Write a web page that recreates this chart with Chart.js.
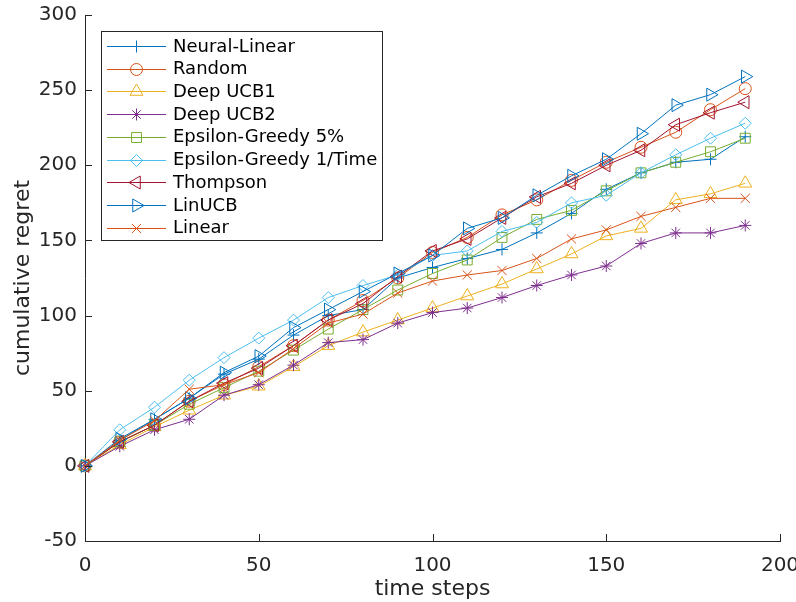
<!DOCTYPE html>
<html>
<head>
<meta charset="utf-8">
<title>cumulative regret</title>
<script src="https://cdn.jsdelivr.net/npm/chart.js@4.4.0/dist/chart.umd.min.js"></script>
<style>
  html, body { margin: 0; padding: 0; background: #fff; }
  #wrap { width: 796px; height: 602px; }
</style>
</head>
<body>
<div id="wrap"><canvas id="regret-chart" width="796" height="602"></canvas></div>
<script>
// values, one point every 10 time steps
const timeSteps = [0, 10, 20, 30, 40, 50, 60, 70, 80, 90, 100, 110, 120, 130, 140, 150, 160, 170, 180, 190];

const neuralLinear  = [0, 17, 31, 45, 61, 71, 87, 100, 104, 125, 132, 138, 144, 155, 168, 184, 195, 202, 204, 219];
const random        = [0, 16, 27, 43, 54, 66, 80, 97, 110, 125, 142, 152, 167, 177, 190, 202, 212, 222, 237, 251];
const deepUcb1      = [0, 14, 26, 37, 47, 53, 66, 80, 89, 97, 105, 113, 121, 131, 141, 153, 158, 177, 181, 188];
const deepUcb2      = [0, 13, 24, 31, 47, 54, 67, 82, 84, 95, 102, 105, 112, 120, 127, 133, 148, 155, 155, 160];
const epsGreedy5    = [0, 16, 27, 41, 52, 63, 77, 91, 104, 117, 128, 137, 152, 164, 170, 183, 195, 202, 209, 218];
const epsGreedyTime = [0, 24, 39, 57, 72, 85, 97, 112, 120, 127, 140, 143, 156, 162, 175, 180, 195, 207, 218, 228];
const thompson      = [0, 16, 27, 43, 55, 65, 80, 97, 108, 126, 143, 151, 165, 179, 188, 200, 210, 227, 235, 242];
const linUcb        = [0, 18, 31, 45, 62, 73, 92, 104, 116, 128, 140, 158, 165, 180, 193, 204, 221, 240, 247, 259];
const linear        = [0, 17, 30, 51, 54, 62, 78, 95, 101, 115, 123, 127, 130, 138, 151, 157, 166, 172, 178, 178];

const seriesNames = ['Neural-Linear', 'Random', 'Deep UCB1', 'Deep UCB2', 'Epsilon-Greedy 5%',
  'Epsilon-Greedy 1/Time', 'Thompson', 'LinUCB', 'Linear'];
const seriesValues = [neuralLinear, random, deepUcb1, deepUcb2, epsGreedy5, epsGreedyTime, thompson, linUcb, linear];

const xTickValues = [0, 50, 100, 150, 200];
const yTickValues = [-50, 0, 50, 100, 150, 200, 250, 300];

// matlab default colour order + marker per line
const seriesStyle = [
  { color: '#0072BD', marker: 'cross', rot: 0, r: 6 },
  { color: '#D95319', marker: 'circle', rot: 0, r: 6 },
  { color: '#EDB120', marker: 'triangle', rot: 0, r: 7.5 },
  { color: '#7E2F8E', marker: 'star', rot: 0, r: 6 },
  { color: '#77AC30', marker: 'rect', rot: 0, r: 7 },
  { color: '#4DBEEE', marker: 'rectRot', rot: 0, r: 6 },
  { color: '#A2142F', marker: 'triangle', rot: -90, r: 7.5 },
  { color: '#0072BD', marker: 'triangle', rot: 90, r: 7.5 },
  { color: '#D95319', marker: 'crossRot', rot: 0, r: 6.5 }
];

const axisColor = '#262626';
const fontFamily = "'DejaVu Sans', 'Liberation Sans', sans-serif";

const datasets = seriesNames.map((name, i) => {
  const st = seriesStyle[i];
  return {
    label: name,
    data: timeSteps.map((t, j) => ({ x: t, y: seriesValues[i][j] })),
    borderColor: st.color,
    backgroundColor: 'rgba(0,0,0,0)',
    borderWidth: 1,
    pointStyle: st.marker,
    pointRotation: st.rot,
    pointRadius: st.r,
    pointBorderWidth: 1,
    pointBackgroundColor: 'rgba(0,0,0,0)',
    tension: 0,
    clip: false,
    order: -i
  };
});

function drawMarker(ctx, style, x, y) {
  if (Chart.helpers && Chart.helpers.drawPoint) {
    Chart.helpers.drawPoint(ctx, { pointStyle: style.marker, rotation: style.rot, radius: style.r, borderWidth: 1 }, x, y);
  } else {
    ctx.beginPath();
    ctx.arc(x, y, style.r, 0, Math.PI * 2);
    ctx.stroke();
  }
}

// inward tick marks and the boxed legend, the way matlab draws them
const matlabDecor = {
  id: 'matlabDecor',
  afterDraw(chart) {
    const ctx = chart.ctx;
    const xs = chart.scales.x;
    const ys = chart.scales.y;
    const area = chart.chartArea;
    const tickLen = 7;

    ctx.save();
    ctx.strokeStyle = axisColor;
    ctx.lineWidth = 1;
    ctx.beginPath();
    xTickValues.forEach(v => {
      const px = Math.round(xs.getPixelForValue(v)) + 0.5;
      ctx.moveTo(px, area.bottom);
      ctx.lineTo(px, area.bottom - tickLen);
    });
    yTickValues.forEach(v => {
      const py = Math.round(ys.getPixelForValue(v)) + 0.5;
      ctx.moveTo(area.left, py);
      ctx.lineTo(area.left + tickLen, py);
    });
    ctx.stroke();

    // legend box
    const box = { x: 101.5, y: 31.5, w: 281, h: 209 };
    ctx.fillStyle = '#fff';
    ctx.fillRect(box.x, box.y, box.w, box.h);
    ctx.strokeStyle = axisColor;
    ctx.strokeRect(box.x, box.y, box.w, box.h);

    const rowH = 22.7;
    ctx.font = '18px ' + fontFamily;
    ctx.textBaseline = 'middle';
    ctx.textAlign = 'left';
    chart.data.datasets.forEach((ds, i) => {
      const st = seriesStyle[i];
      const y = 46 + i * rowH;
      ctx.strokeStyle = st.color;
      ctx.lineWidth = 1;
      ctx.beginPath();
      ctx.moveTo(107, Math.round(y) + 0.5);
      ctx.lineTo(166, Math.round(y) + 0.5);
      ctx.stroke();
      ctx.fillStyle = 'rgba(0,0,0,0)';
      drawMarker(ctx, st, 136.5, Math.round(y) + 0.5);
      ctx.fillStyle = '#000';
      ctx.fillText(ds.label, 173, y + 1);
    });
    ctx.restore();
  }
};

const ctx = document.getElementById('regret-chart').getContext('2d');
const chart = new Chart(ctx, {
  type: 'line',
  data: { datasets: datasets },
  options: {
    responsive: false,
    animation: false,
    devicePixelRatio: 1,
    layout: { padding: { top: 15, right: 16, left: 0, bottom: 0 } },
    plugins: {
      legend: { display: false },
      tooltip: { enabled: false }
    },
    scales: {
      x: {
        type: 'linear',
        min: 0,
        max: 200,
        afterBuildTicks: scale => { scale.ticks = xTickValues.map(v => ({ value: v })); },
        afterFit: scale => { scale.height = 61; scale.paddingLeft = 0; scale.paddingRight = 0; },
        grid: { display: false, drawTicks: false },
        border: { display: true, color: axisColor, width: 1 },
        ticks: { color: axisColor, padding: 13, maxRotation: 0, font: { family: fontFamily, size: 20 } },
        title: {
          display: true,
          text: 'time steps',
          color: axisColor,
          font: { family: fontFamily, size: 22 },
          padding: { top: 0, bottom: 0 }
        }
      },
      y: {
        type: 'linear',
        min: -50,
        max: 300,
        afterBuildTicks: scale => { scale.ticks = yTickValues.map(v => ({ value: v })); },
        afterFit: scale => { scale.width = 85; scale.paddingTop = 0; scale.paddingBottom = 0; },
        grid: { display: false, drawTicks: false },
        border: { display: true, color: axisColor, width: 1 },
        ticks: { color: axisColor, padding: 8, font: { family: fontFamily, size: 20 } },
        title: {
          display: true,
          text: 'cumulative regret',
          color: axisColor,
          font: { family: fontFamily, size: 22 },
          padding: { top: 10 }
        }
      }
    }
  },
  plugins: [matlabDecor]
});
</script>
</body>
</html>
